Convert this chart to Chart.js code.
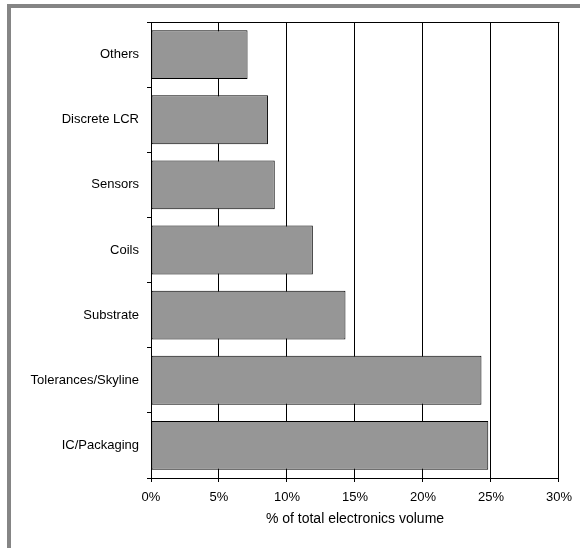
<!DOCTYPE html>
<html>
<head>
<meta charset="utf-8">
<script src="https://cdn.jsdelivr.net/npm/chart.js@4/dist/chart.umd.min.js"></script>
<style>
  html, body { margin: 0; padding: 0; background: #fff; }
  #wrap { position: relative; width: 580px; height: 548px; overflow: hidden; }
  #frame { position: absolute; left: 7px; top: 4px; right: -10px; bottom: -10px;
           border-top: 4px solid #858585; border-left: 4px solid #858585; }
  canvas { position: absolute; left: 0; top: 0; }
</style>
</head>
<body>
<div id="wrap">
  <div id="frame"></div>
  <canvas id="c" width="580" height="548"></canvas>
</div>
<script>
// Share of total electronics volume by component group
const categories = ['Others', 'Discrete LCR', 'Sensors', 'Coils', 'Substrate', 'Tolerances/Skyline', 'IC/Packaging'];
const shares = [7.1, 8.6, 9.1, 11.9, 14.3, 24.3, 24.8];
const axisTitle = '% of total electronics volume';

const FONT = "'Liberation Sans', Arial, sans-serif";

// Outline the plot area (top edge is not drawn by any axis)
const plotFrame = {
  id: 'plotFrame',
  beforeDatasetsDraw(chart) {
    const { ctx, chartArea: a } = chart;
    ctx.save();
    ctx.strokeStyle = '#000';
    ctx.lineWidth = 1;
    ctx.beginPath();
    ctx.moveTo(Math.round(a.left) + 0.5, Math.round(a.top) + 0.5);
    ctx.lineTo(Math.round(a.right) + 0.5, Math.round(a.top) + 0.5);
    ctx.stroke();
    ctx.restore();
  }
};

new Chart(document.getElementById('c'), {
  type: 'bar',
  data: {
    labels: categories,
    datasets: [{
      data: shares,
      backgroundColor: '#969696',
      borderColor: '#000',
      borderWidth: 1,
      borderSkipped: false,
      barPercentage: 0.75,
      categoryPercentage: 1
    }]
  },
  options: {
    indexAxis: 'y',
    responsive: false,
    animation: false,
    events: [],
    layout: { padding: { top: 22, right: 20, bottom: 16, left: 0 } },
    plugins: { legend: { display: false }, tooltip: { enabled: false } },
    scales: {
      x: {
        min: 0, max: 30,
        afterFit(s) { s.height = 54; },
        ticks: {
          stepSize: 5,
          padding: 8,
          color: '#000',
          font: { family: FONT, size: 13 },
          callback: v => v + '%'
        },
        grid: { color: '#000', lineWidth: 1, tickLength: 4, drawTicks: true },
        border: { color: '#000', width: 1 },
        title: { display: true, text: axisTitle, color: '#000', font: { family: FONT, size: 14 }, padding: { top: 4, bottom: 4 } }
      },
      y: {
        afterFit(s) { s.width = 151; },
        ticks: { padding: 8, color: '#000', font: { family: FONT, size: 13 } },
        grid: { offset: true, drawOnChartArea: false, drawTicks: true, tickLength: 4, color: '#000' },
        border: { color: '#000', width: 1 }
      }
    }
  },
  plugins: [plotFrame]
});
</script>
</body>
</html>
